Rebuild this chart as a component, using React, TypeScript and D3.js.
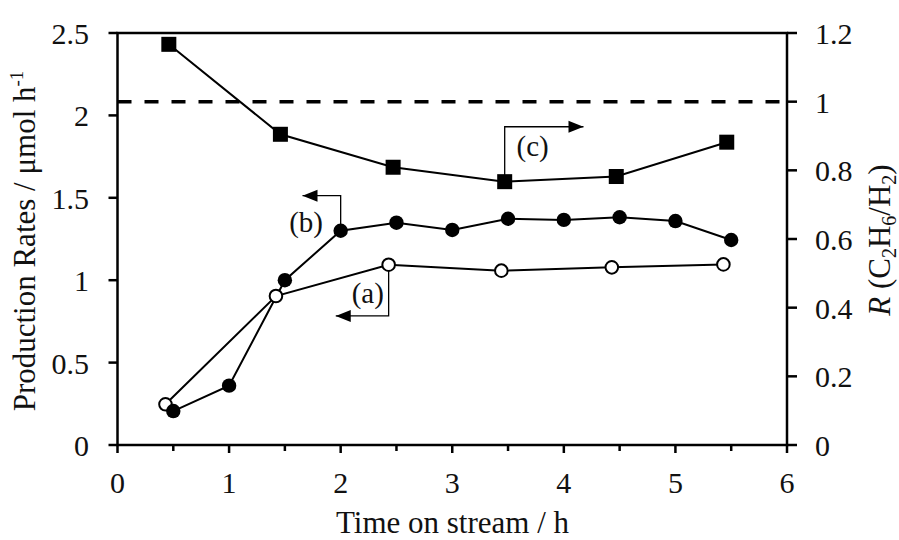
import React from "react";
import * as d3 from "d3";

// (a) open circles – production rate, left axis
const timeA = [0.43, 1.42, 2.43, 3.44, 4.43, 5.43];
const rateA = [0.247, 0.904, 1.094, 1.058, 1.078, 1.096];

// (b) filled circles – production rate, left axis
const timeB = [0.5, 1, 1.5, 2, 2.5, 3, 3.5, 4, 4.5, 5, 5.5];
const rateB = [0.206, 0.36, 1.0, 1.3, 1.349, 1.305, 1.373, 1.366, 1.382, 1.359, 1.244];

// (c) filled squares – ratio R, right axis
const timeC = [0.46, 1.46, 2.47, 3.47, 4.47, 5.46];
const ratioC = [1.167, 0.905, 0.809, 0.767, 0.782, 0.882];

// reference level on the ratio axis
const ratioRef = 1;

const xTicks = [0, 1, 2, 3, 4, 5, 6];
const xMinorTicks = [0.5, 1.5, 2.5, 3.5, 4.5, 5.5];
const leftTicks = [0, 0.5, 1, 1.5, 2, 2.5];
const rightTicks = [0, 0.2, 0.4, 0.6, 0.8, 1, 1.2];

const FONT = '"Liberation Serif", "DejaVu Serif", serif';

type Pt = [number, number];

function Arrow({ from, to }: { from: Pt; to: Pt }) {
  const dx = to[0] - from[0];
  const dy = to[1] - from[1];
  const len = Math.hypot(dx, dy) || 1;
  const ux = dx / len;
  const uy = dy / len;
  const L = 15;
  const W = 6;
  const bx = to[0] - ux * L;
  const by = to[1] - uy * L;
  const pts = [
    [to[0], to[1]],
    [bx - uy * W, by + ux * W],
    [bx + uy * W, by - ux * W],
  ]
    .map((p) => p.join(","))
    .join(" ");
  return <polygon points={pts} fill="#000" />;
}

export default function App() {
  const W = 899;
  const H = 540;
  const x = d3.scaleLinear().domain([0, 6]).range([117.5, 787]);
  const yL = d3.scaleLinear().domain([0, 2.5]).range([445, 33]);
  const yR = d3.scaleLinear().domain([0, 1.2]).range([445, 33]);

  const pathA = d3.line<number>().x((_, i) => x(timeA[i])).y((d) => yL(d))(rateA) || "";
  const pathB = d3.line<number>().x((_, i) => x(timeB[i])).y((d) => yL(d))(rateB) || "";
  const pathC = d3.line<number>().x((_, i) => x(timeC[i])).y((d) => yR(d))(ratioC) || "";

  const fmt = (v: number) => String(+v.toFixed(1));

  const [x0, x1] = x.range();
  const [yb, yt] = yL.range();

  // bracket annotations (data coordinates)
  const ia = 2; // (a) attached to third open circle
  const aPath: Pt[] = [
    [x(timeA[ia]), yL(rateA[ia])],
    [x(timeA[ia]), yL(0.783)],
    [x(1.956), yL(0.783)],
  ];
  const ib = 3; // (b) attached to fourth filled circle
  const bPath: Pt[] = [
    [x(timeB[ib]), yL(rateB[ib])],
    [x(timeB[ib]), yL(1.513)],
    [x(1.658), yL(1.513)],
  ];
  const ic = 3; // (c) attached to fourth square
  const cPath: Pt[] = [
    [x(timeC[ic]), yR(ratioC[ic])],
    [x(timeC[ic]), yR(0.927)],
    [x(4.176), yR(0.927)],
  ];
  const poly = (p: Pt[]) => p.map((q) => q.join(",")).join(" ");

  const txt = { fontFamily: FONT, fill: "#111" } as React.CSSProperties;

  return (
    <svg
      width={W}
      height={H}
      style={{ position: "absolute", left: 0, top: 0, background: "#fff" }}
    >
      <rect width={W} height={H} fill="#fff" />

      {/* reference dashed line */}
      <line
        x1={x0}
        x2={x1}
        y1={yR(ratioRef)}
        y2={yR(ratioRef)}
        stroke="#000"
        strokeWidth={3.5}
        strokeDasharray="14 13"
      />

      {/* frame */}
      <rect x={x0} y={yt} width={x1 - x0} height={yb - yt} fill="none" stroke="#000" strokeWidth={2.5} />

      {/* bottom ticks */}
      {xTicks.map((t) => (
        <g key={"xt" + t}>
          <line x1={x(t)} x2={x(t)} y1={yb} y2={yb + 8} stroke="#000" strokeWidth={2.5} />
          <text x={x(t)} y={493} fontSize={30} textAnchor="middle" style={txt}>
            {fmt(t)}
          </text>
        </g>
      ))}
      {xMinorTicks.map((t) => (
        <line key={"xm" + t} x1={x(t)} x2={x(t)} y1={yb} y2={yb + 6} stroke="#000" strokeWidth={2.5} />
      ))}

      {/* left ticks */}
      {leftTicks.map((t) => (
        <g key={"yl" + t}>
          <line x1={x0 - 9} x2={x0} y1={yL(t)} y2={yL(t)} stroke="#000" strokeWidth={2.5} />
          <text x={89} y={yL(t) + 11} fontSize={30} textAnchor="end" style={txt}>
            {fmt(t)}
          </text>
        </g>
      ))}

      {/* right ticks */}
      {rightTicks.map((t) => (
        <g key={"yr" + t}>
          <line x1={x1} x2={x1 + 10} y1={yR(t)} y2={yR(t)} stroke="#000" strokeWidth={2.5} />
          <text x={815} y={yR(t) + 11} fontSize={30} textAnchor="start" style={txt}>
            {fmt(t)}
          </text>
        </g>
      ))}

      {/* axis titles */}
      <text x={452.5} y={533} fontSize={31} textAnchor="middle" style={txt}>
        Time on stream / h
      </text>
      <text transform="translate(35,241) rotate(-90)" fontSize={31} textAnchor="middle" style={txt}>
        Production Rates / μmol h
        <tspan dy={-12} fontSize={19}>
          -1
        </tspan>
      </text>
      <text transform="translate(890,240) rotate(-90)" fontSize={31} textAnchor="middle" style={txt}>
        <tspan fontStyle="italic">R</tspan> (C
        <tspan dy={6} fontSize={20}>2</tspan>
        <tspan dy={-6}>H</tspan>
        <tspan dy={6} fontSize={20}>6</tspan>
        <tspan dy={-6}>/H</tspan>
        <tspan dy={6} fontSize={20}>2</tspan>
        <tspan dy={-6}>)</tspan>
      </text>

      {/* annotation brackets */}
      <polyline points={poly(aPath)} fill="none" stroke="#000" strokeWidth={1.3} />
      <Arrow from={aPath[1]} to={aPath[2]} />
      <polyline points={poly(bPath)} fill="none" stroke="#000" strokeWidth={1.3} />
      <Arrow from={bPath[1]} to={bPath[2]} />
      <polyline points={poly(cPath)} fill="none" stroke="#000" strokeWidth={1.3} />
      <Arrow from={cPath[1]} to={cPath[2]} />

      <text x={x(2.243)} y={yL(0.922) + 10} fontSize={29} textAnchor="middle" style={txt}>
        (a)
      </text>
      <text x={x(1.69)} y={yL(1.353) + 10} fontSize={29} textAnchor="middle" style={txt}>
        (b)
      </text>
      <text x={x(3.72)} y={yR(0.871) + 10} fontSize={29} textAnchor="middle" style={txt}>
        (c)
      </text>

      {/* series lines */}
      <path d={pathA} fill="none" stroke="#000" strokeWidth={2} />
      <path d={pathB} fill="none" stroke="#000" strokeWidth={2} />
      <path d={pathC} fill="none" stroke="#000" strokeWidth={2} />

      {/* markers */}
      {rateA.map((v, i) => (
        <circle key={"a" + i} cx={x(timeA[i])} cy={yL(v)} r={6.3} fill="#fff" stroke="#000" strokeWidth={2} />
      ))}
      {rateB.map((v, i) => (
        <circle key={"b" + i} cx={x(timeB[i])} cy={yL(v)} r={7.2} fill="#000" />
      ))}
      {ratioC.map((v, i) => (
        <rect key={"c" + i} x={x(timeC[i]) - 7.5} y={yR(v) - 7.5} width={15} height={15} fill="#000" />
      ))}
    </svg>
  );
}
